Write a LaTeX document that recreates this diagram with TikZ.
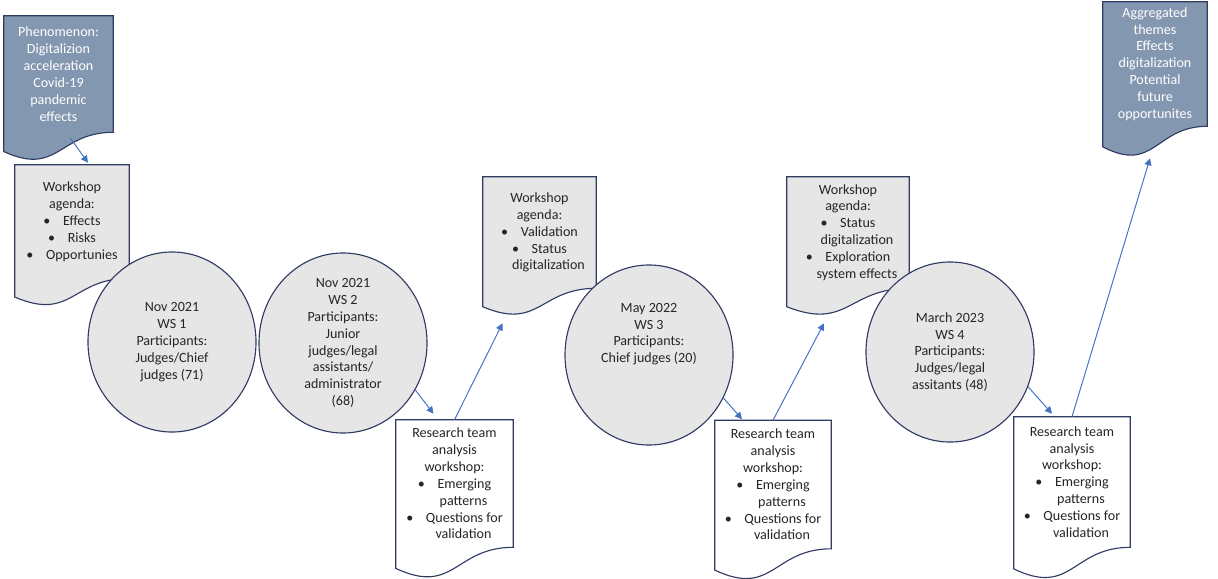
\documentclass[tikz,border=0pt]{standalone}
\usepackage{fontspec}
\setmainfont{Carlito}
\usetikzlibrary{shapes.geometric,arrows.meta,calc,backgrounds}

\definecolor{docblue}{HTML}{8497B0}
\definecolor{docgray}{HTML}{E7E6E6}
\definecolor{edgenavy}{HTML}{2F3B63}
\definecolor{arrowblue}{HTML}{4472C4}
\definecolor{inktext}{HTML}{262626}

\tikzset{
  docbox/.style={rectangle,draw=none,inner sep=1pt,align=center,text=inktext},
  darkdoc/.style={docbox,text=white},
  wscircle/.style={ellipse,draw=edgenavy,line width=0.8pt,fill=docgray,minimum width=4.2cm,minimum height=4.5cm,inner sep=0pt,inner ysep=-0.2cm,align=center,text=inktext},
  flow/.style={draw=arrowblue,line width=0.7pt,-{Triangle[length=5pt,width=5pt]}},
  docline/.style={draw=edgenavy,line width=0.8pt}
}

% document outline with wavy bottom, behind the node text
\newcommand{\docshape}[2]{%
  \begin{pgfonlayer}{background}
  \path[docline,fill=#2] let \p1=($(#1.north)-(#1.south)$) in
    (#1.north west) -- (#1.north east) -- (#1.south east)
    .. controls (#1.south) and ($(#1.south)+(0pt,-0.381*\y1)$) ..
    ($(#1.south west)+(0pt,-0.165*\y1)$) -- cycle;
  \end{pgfonlayer}}
\newcommand{\wsbullet}{\textbullet\hspace{9pt}}
\newcommand{\wsindent}{\hspace*{0.45cm}}

\begin{document}
\begin{tikzpicture}[x=0.025cm,y=-0.025cm]
  \useasboundingbox (0,0) rectangle (1218,579);

    % documents
    \node[darkdoc,minimum width=2.725cm,minimum height=2.9cm] (phen) at (58.5,74) {Phenomenon:\\Digitalizion\\acceleration\\Covid-19\\pandemic\\effects};
    \docshape{phen}{docblue}
    \node[docbox,minimum width=2.85cm,minimum height=2.825cm] (agenda1) at (72,221.5) {Workshop\\agenda:\\\wsbullet Effects\\\wsbullet Risks\\\wsbullet Opportunies};
    \docshape{agenda1}{docgray}
    \node[docbox,minimum width=2.825cm,minimum height=2.775cm] (agenda2) at (539.5,232.5) {Workshop\\agenda:\\\wsbullet Validation\\\wsbullet Status\\\wsindent digitalization};
    \docshape{agenda2}{docgray}
    \node[docbox,minimum width=3.05cm,minimum height=2.775cm] (agenda3) at (848,232.5) {Workshop\\agenda:\\\wsbullet Status\\\wsindent digitalization\\\wsbullet Exploration\\\wsindent system effects};
    \docshape{agenda3}{docgray}
    \node[docbox,minimum width=2.925cm,minimum height=3.175cm] (res1) at (454.5,483.5) {Research team\\analysis\\workshop:\\\wsbullet Emerging\\\wsindent patterns\\\wsbullet Questions for\\\wsindent validation};
    \docshape{res1}{white}
    \node[docbox,minimum width=2.9cm,minimum height=3.2cm] (res2) at (773,484.5) {Research team\\analysis\\workshop:\\\wsbullet Emerging\\\wsindent patterns\\\wsbullet Questions for\\\wsindent validation};
    \docshape{res2}{white}
    \node[docbox,minimum width=2.9cm,minimum height=3.25cm] (res3) at (1072,482) {Research team\\analysis\\workshop:\\\wsbullet Emerging\\\wsindent patterns\\\wsbullet Questions for\\\wsindent validation};
    \docshape{res3}{white}
    \node[darkdoc,minimum width=2.6cm,minimum height=3.1cm] (agg) at (1155,64) {Aggregated\\themes\\Effects\\digitalization\\Potential\\future\\opportunites};
    \docshape{agg}{docblue}

    % workshops
    \node[wscircle] (ws1) at (172,342) {Nov 2021\\WS 1\\Participants:\\Judges/Chief\\judges (71)};
    \node[wscircle] (ws2) at (343,343) {Nov 2021\\WS 2\\Participants:\\Junior\\judges/legal\\assistants/\\administrator\\(68)};
    \node[wscircle,text depth=1.1cm] (ws3) at (649,355) {May 2022\\WS 3\\Participants:\\Chief judges (20)};
    \node[wscircle] (ws4) at (950,352) {March 2023\\WS 4\\Participants:\\Judges/legal\\assitants (48)};

    % arrows
    \draw[flow] ([shift={(12,6)}]phen.south) -- ([shift={(16,-2)}]agenda1.north);
    \draw[flow] (ws2.-33) -- ([shift={(-21,-6)}]res1.north);
    \draw[flow] (res1.north) -- ([shift={(-37,35)}]agenda2.south);
    \draw[flow] (ws3.-30) -- ([shift={(-31,-1)}]res2.north);
    \draw[flow] (res2.north) -- ([shift={(-24,35)}]agenda3.south);
    \draw[flow] (ws4.-24) -- ([shift={(-20,-3)}]res3.north);
    \draw[flow] (res3.north) -- ([shift={(-5,32)}]agg.south);

\end{tikzpicture}
\end{document}
